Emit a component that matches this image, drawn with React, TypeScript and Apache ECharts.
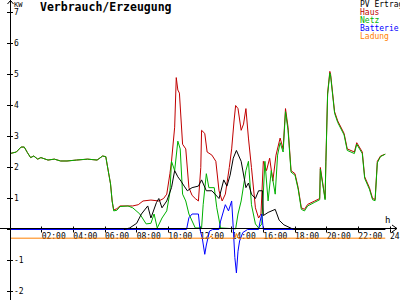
import React, { useEffect, useRef } from "react";
import * as echarts from "echarts";

// [hour, kW]
const haus: [number, number][] = [
  [0, 2.45], [0.4, 2.5], [0.7, 2.66], [0.9, 2.66], [1.1, 2.48], [1.3, 2.32], [1.5, 2.37], [1.75, 2.27],
  [1.95, 2.32], [2.4, 2.24], [2.8, 2.27], [3.2, 2.21], [3.6, 2.21], [4.2, 2.24], [4.9, 2.27], [5.5, 2.24],
  [5.85, 2.37], [6.05, 2.35], [6.15, 2.05], [6.35, 1.47], [6.45, 0.92], [6.55, 0.63], [6.75, 0.67],
  [6.95, 0.76], [7.45, 0.76], [7.75, 0.76], [8.1, 0.8], [8.4, 0.92], [8.9, 0.95], [9.4, 0.92], [9.7, 1.0],
  [9.9, 1.14], [10.1, 1.8], [10.2, 2.2], [10.4, 3.3], [10.5, 4.9], [10.6, 4.5], [10.7, 4.4], [10.9, 2.75],
  [11.1, 2.6], [11.3, 1.35], [11.5, 1.1], [11.7, 1.0], [11.9, 0.92], [12.05, 2.0], [12.1, 3.2], [12.3, 3.1],
  [12.45, 2.5], [12.75, 2.4], [13.0, 2.2], [13.2, 1.25], [13.4, 0.92], [13.6, 1.14], [13.85, 2.0],
  [14.0, 2.6], [14.15, 3.5], [14.25, 4.0], [14.4, 3.9], [14.6, 3.2], [14.75, 3.4], [14.9, 3.9],
  [15.06, 2.95], [15.25, 2.0], [15.5, 0.7], [15.7, 0.37], [15.85, 0.5], [16.0, 2.2], [16.2, 1.9],
  [16.4, 2.3], [16.6, 1.56], [16.8, 2.4], [17.06, 2.95], [17.25, 2.6], [17.4, 3.9], [17.56, 3.3],
  [17.75, 1.9], [18.0, 1.8], [18.2, 1.35], [18.4, 0.7], [18.6, 0.65], [18.8, 0.81], [19.25, 0.92],
  [19.56, 1.0], [19.6, 2.0], [19.9, 1.0], [19.95, 2.2], [20.06, 4.4], [20.2, 5.1], [20.25, 5.0],
  [20.5, 3.8], [20.7, 3.5], [21.1, 3.1], [21.3, 2.6], [21.75, 2.5], [21.9, 2.8], [22.25, 2.5],
  [22.4, 1.7], [22.7, 1.35], [22.9, 1.0], [23.06, 0.97], [23.2, 2.2], [23.4, 2.37], [23.7, 2.43],
];

const netz: [number, number][] = [
  [0, 2.45], [0.4, 2.5], [0.7, 2.66], [0.9, 2.66], [1.1, 2.48], [1.3, 2.32], [1.5, 2.37], [1.75, 2.27],
  [1.95, 2.32], [2.4, 2.24], [2.8, 2.27], [3.2, 2.21], [3.6, 2.21], [4.2, 2.24], [4.9, 2.27], [5.5, 2.24],
  [5.85, 2.37], [6.05, 2.35], [6.15, 2.05], [6.35, 1.47], [6.45, 0.92], [6.55, 0.6], [6.75, 0.62],
  [6.95, 0.74], [7.45, 0.76], [7.75, 0.7], [8.2, 0.5], [8.6, 0.18], [8.9, 0.2], [9.1, 0.5], [9.3, 0.05],
  [9.6, 0.37], [9.9, 0.6], [10.1, 1.2], [10.2, 2.2], [10.4, 1.9], [10.6, 2.85], [10.75, 2.6],
  [10.9, 1.14], [11.1, 0.92], [11.3, 0.5], [11.7, 0.05], [12.1, 0.05], [12.2, 0.8], [12.4, 1.8],
  [12.56, 1.35], [12.9, 1.35], [13.06, 0.7], [13.3, 0.05], [14.25, 0.02], [14.4, 0.5], [14.6, 0.92],
  [14.9, 1.9], [15.06, 2.2], [15.25, 0.8], [15.5, 0.18], [15.7, 0.05], [15.9, 0.18], [16.1, 2.2],
  [16.3, 0.92], [16.5, 1.9], [16.75, 1.14], [16.9, 2.4], [17.06, 2.8], [17.25, 2.5], [17.4, 3.8],
  [17.56, 3.2], [17.75, 1.85], [18.0, 1.75], [18.2, 1.3], [18.4, 0.65], [18.6, 0.6], [18.8, 0.76],
  [19.25, 0.88], [19.56, 0.96], [19.6, 1.95], [19.9, 0.96], [19.95, 2.15], [20.06, 4.35], [20.2, 5.05],
  [20.25, 4.95], [20.5, 3.75], [20.7, 3.45], [21.1, 3.05], [21.3, 2.55], [21.75, 2.45], [21.9, 2.75],
  [22.25, 2.45], [22.4, 1.65], [22.7, 1.3], [22.9, 0.96], [23.06, 0.93], [23.2, 2.15], [23.4, 2.35],
  [23.7, 2.43],
];

const pvErtrag: [number, number][] = [
  [7.2, 0], [7.56, 0.05], [8.0, 0.2], [8.3, 0.5], [8.7, 0.76], [8.9, 0.37], [9.25, 0.87], [9.4, 1.0],
  [9.6, 0.7], [9.9, 0.92], [10.2, 1.35], [10.4, 1.9], [10.6, 1.7], [10.8, 1.56], [11.0, 1.4],
  [11.2, 1.25], [11.5, 1.35], [11.9, 1.4], [12.1, 1.6], [12.4, 1.25], [12.75, 1.25], [13.2, 1.0],
  [13.5, 1.6], [13.7, 1.4], [13.9, 1.75], [14.1, 2.3], [14.3, 2.55], [14.6, 2.2], [14.9, 1.35],
  [15.06, 1.5], [15.25, 1.14], [15.5, 1.0], [15.7, 1.25], [15.95, 1.25], [16.0, 0.45], [16.3, 0.55],
  [16.75, 0.65], [17.0, 0.3], [17.3, 0.15], [17.8, 0.03], [18.0, 0], [23.7, 0],
];

const batterie: [number, number][] = [
  [0, 0], [11.15, 0], [11.3, 0.38], [11.5, 0.5], [11.9, 0.5], [12.0, 0], [12.15, -0.3], [12.3, -0.8],
  [12.4, -0.5], [12.6, -0.05], [12.8, 0], [13.2, 0], [13.3, 0.27], [13.6, 0.8], [13.8, 0.6], [14.0, 0.92],
  [14.1, 0.05], [14.2, -0.9], [14.3, -1.4], [14.4, -0.7], [14.5, -0.37], [14.7, -0.1], [15.0, 0],
  [15.7, 0], [15.8, 0.27], [15.9, 0.5], [16.0, 0], [23.7, 0],
];

const ladung: [number, number][] = [
  [0, -0.28], [12.6, -0.28], [12.7, -0.2], [12.8, -0.28], [14.2, -0.28], [14.3, -0.13], [14.4, -0.28],
  [23.7, -0.28],
];

const legendNames = ["PV Ertrag", "Haus", "Netz", "Batterie", "Ladung"];
const xTicks = { min: 0, max: 24, step: 2 };
const yTicks = { min: -2, max: 7, step: 1 };

const COLORS = {
  pv: "#000000",
  haus: "#c00000",
  netz: "#00b000",
  batt: "#0000ff",
  lad: "#ff8000",
};
const MONO = "'DejaVu Sans Mono', monospace";

export default function App() {
  const ref = useRef<HTMLDivElement>(null);
  useEffect(() => {
    if (!ref.current) return;
    const chart = echarts.init(ref.current, null, { renderer: "svg" });
    const legendColors = [COLORS.pv, COLORS.haus, COLORS.netz, COLORS.batt, COLORS.lad];
    const line = (name: string, data: [number, number][], color: string) => ({
      name,
      type: "line",
      data,
      showSymbol: false,
      symbol: "none",
      lineStyle: { color, width: 1 },
      itemStyle: { color },
      xAxisIndex: 0,
      yAxisIndex: 0,
    });
    const xAxisBase = {
      type: "value",
      min: xTicks.min,
      max: xTicks.max,
      interval: xTicks.step,
      position: "bottom",
      offset: -62,
      splitLine: { show: false },
      axisLine: { show: false, onZero: false },
    };
    const yAxisBase = {
      type: "value",
      min: yTicks.min,
      max: yTicks.max,
      interval: yTicks.step,
      position: "left",
      splitLine: { show: false },
      axisLine: { show: false, onZero: false },
    };
    chart.setOption({
      animation: false,
      backgroundColor: "#ffffff",
      grid: { left: 10, top: 12.5, width: 380, height: 279, containLabel: false, outerBoundsMode: "none" },
      xAxis: [
        {
          ...xAxisBase,
          axisTick: { show: true, inside: false, length: 3, lineStyle: { color: "#000" } },
          axisLabel: {
            show: true,
            align: "left",
            margin: 3,
            fontSize: 8,
            fontFamily: MONO,
            color: "#000",
            showMaxLabel: true,
            hideOverlap: false,
            formatter: (v: number) => (v === 0 ? "" : `${v < 10 ? "0" : ""}${v}:00`),
          },
        },
        {
          ...xAxisBase,
          axisTick: { show: true, inside: true, length: 3, lineStyle: { color: "#000" } },
          axisLabel: { show: false },
        },
      ],
      yAxis: [
        {
          ...yAxisBase,
          axisTick: { show: true, inside: true, length: 3, lineStyle: { color: "#000" } },
          axisLabel: {
            show: true,
            inside: true,
            margin: 4,
            fontSize: 8,
            fontFamily: MONO,
            color: "#000",
            formatter: (v: number) => (v === 0 ? "" : String(v)),
          },
        },
        {
          ...yAxisBase,
          axisTick: { show: true, inside: false, length: 3, lineStyle: { color: "#000" } },
          axisLabel: { show: false },
        },
      ],
      series: [
        line("Haus", haus, COLORS.haus),
        line("Netz", netz, COLORS.netz),
        line("Batterie", batterie, COLORS.batt),
        line("PV Ertrag", pvErtrag, COLORS.pv),
        line("Ladung", ladung, COLORS.lad),
      ],
      graphic: [
        { type: "line", shape: { x1: 0, y1: 228.5, x2: 397, y2: 228.5 }, style: { stroke: "#000", lineWidth: 1 }, z: 100 },
        { type: "polyline", shape: { points: [[392, 225], [397, 228.5], [392, 232]] }, style: { stroke: "#000", fill: "none", lineWidth: 1 }, z: 100 },
        { type: "line", shape: { x1: 10.5, y1: 0, x2: 10.5, y2: 300 }, style: { stroke: "#000", lineWidth: 1 }, z: 100 },
        { type: "polyline", shape: { points: [[7.5, 4], [10.5, 0.5], [13.5, 4]] }, style: { stroke: "#000", fill: "none", lineWidth: 1 }, z: 100 },
        { type: "text", x: 14, y: 1, style: { text: "KW", fontSize: 7, fontFamily: MONO, fill: "#000" } },
        { type: "text", x: 385, y: 215, style: { text: "h", fontSize: 9, fontFamily: MONO, fill: "#000" } },
        {
          type: "text",
          x: 40,
          y: 1,
          style: { text: "Verbrauch/Erzeugung", fontSize: 11.5, fontWeight: "bold", fontFamily: MONO, fill: "#000" },
        },
        ...legendNames.map((n, i) => ({
          type: "text",
          x: 360,
          y: 0.5 + i * 8,
          style: { text: n, fontSize: 8, fontFamily: MONO, fill: legendColors[i] },
        })),
      ],
    });
    return () => chart.dispose();
  }, []);
  return <div ref={ref} style={{ width: 400, height: 300, position: "absolute", left: 0, top: 0 }} />;
}
